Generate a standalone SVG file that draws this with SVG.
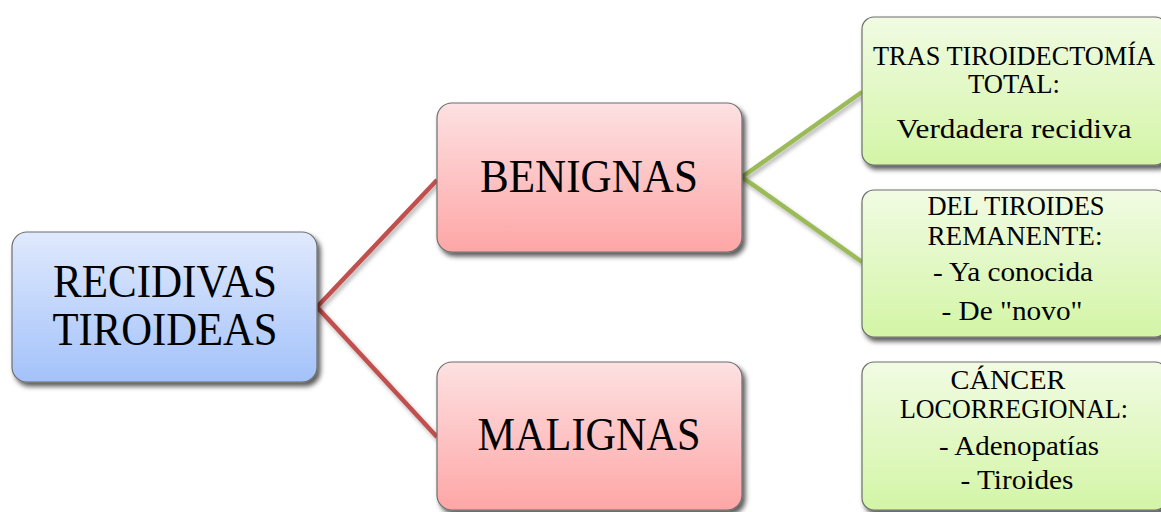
<svg xmlns="http://www.w3.org/2000/svg" width="1161" height="512" viewBox="0 0 1161 512">
<defs>
<linearGradient id="gBlue" x1="0" y1="0" x2="0" y2="1"><stop offset="0" stop-color="#e0e9fd"/><stop offset="1" stop-color="#a3c2fa"/></linearGradient>
<linearGradient id="gRed" x1="0" y1="0" x2="0" y2="1"><stop offset="0" stop-color="#fde1e2"/><stop offset="1" stop-color="#fea6a6"/></linearGradient>
<linearGradient id="gGreen" x1="0" y1="0" x2="0" y2="1"><stop offset="0" stop-color="#f1fbe3"/><stop offset="1" stop-color="#d3f5a6"/></linearGradient>
<filter id="sh" x="-10%" y="-10%" width="125%" height="130%"><feDropShadow dx="3" dy="4" stdDeviation="2.5" flood-color="#000" flood-opacity="0.65"/></filter>
<filter id="lsh" x="-10%" y="-10%" width="130%" height="130%"><feDropShadow dx="2" dy="3" stdDeviation="2" flood-color="#000" flood-opacity="0.3"/></filter>
</defs>
<style>
.box{stroke:#6e6e6e;stroke-width:1.2;filter:url(#sh)}
.t{font-family:"Liberation Serif","DejaVu Serif",serif;fill:#000;text-anchor:middle}
.big{font-size:47px}
.sm{font-size:27px}
.red{stroke:#c0504d;stroke-width:4.5;fill:none;filter:url(#lsh)}
.grn{stroke:#9bbb59;stroke-width:4.5;fill:none;filter:url(#lsh)}
</style>
<g id="connectors">
<polyline class="red" points="437,180 317,307 437,437"/>
<polyline class="grn" points="862,92 742,177 862,262"/>
<line class="grn" x1="742" y1="437" x2="862" y2="437"/>
</g>
<g id="root">
<rect class="box" x="12" y="232" width="305" height="150" rx="15" fill="url(#gBlue)"/>
<text class="t big" x="165" y="297" textLength="224" lengthAdjust="spacingAndGlyphs">RECIDIVAS</text>
<text class="t big" x="165" y="345" textLength="225" lengthAdjust="spacingAndGlyphs">TIROIDEAS</text>
</g>
<g id="benignas">
<rect class="box" x="437" y="103" width="305" height="149" rx="15" fill="url(#gRed)"/>
<text class="t big" x="589" y="192" textLength="218" lengthAdjust="spacingAndGlyphs">BENIGNAS</text>
</g>
<g id="malignas">
<rect class="box" x="437" y="362" width="305" height="148" rx="15" fill="url(#gRed)"/>
<text class="t big" x="589" y="450" textLength="223" lengthAdjust="spacingAndGlyphs">MALIGNAS</text>
</g>
<g id="tras">
<rect class="box" x="862" y="17" width="305" height="148" rx="12" fill="url(#gGreen)"/>
<text class="t sm" x="1014" y="65" textLength="282" lengthAdjust="spacingAndGlyphs">TRAS TIROIDECTOMÍA</text>
<text class="t sm" x="1014" y="93" textLength="92" lengthAdjust="spacingAndGlyphs">TOTAL:</text>
<text class="t sm" x="1014" y="138" textLength="235" lengthAdjust="spacingAndGlyphs">Verdadera recidiva</text>
</g>
<g id="remanente">
<rect class="box" x="862" y="190" width="305" height="147" rx="12" fill="url(#gGreen)"/>
<text class="t sm" x="1016" y="215" textLength="177" lengthAdjust="spacingAndGlyphs">DEL TIROIDES</text>
<text class="t sm" x="1015" y="245" textLength="175" lengthAdjust="spacingAndGlyphs">REMANENTE:</text>
<text class="t sm" x="1013" y="281" textLength="160" lengthAdjust="spacingAndGlyphs">- Ya conocida</text>
<text class="t sm" x="1012" y="320" textLength="141" lengthAdjust="spacingAndGlyphs">- De "novo"</text>
</g>
<g id="cancer">
<rect class="box" x="862" y="362" width="305" height="148" rx="12" fill="url(#gGreen)"/>
<text class="t sm" x="1008" y="389" textLength="115" lengthAdjust="spacingAndGlyphs">CÁNCER</text>
<text class="t sm" x="1014" y="418" textLength="228" lengthAdjust="spacingAndGlyphs">LOCORREGIONAL:</text>
<text class="t sm" x="1019" y="455" textLength="160" lengthAdjust="spacingAndGlyphs">- Adenopatías</text>
<text class="t sm" x="1017" y="489" textLength="113" lengthAdjust="spacingAndGlyphs">- Tiroides</text>
</g>
</svg>
